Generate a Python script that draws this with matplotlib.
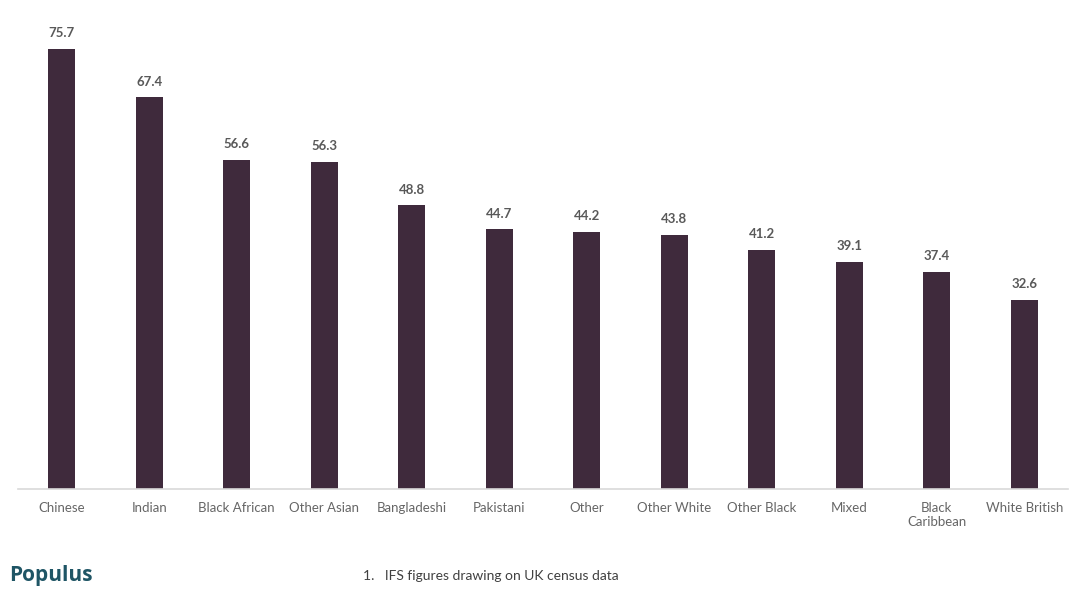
import matplotlib
matplotlib.use("Agg")
import matplotlib.pyplot as plt
import numpy as np

# Chart data
groups = ['Chinese', 'Indian', 'Black African', 'Other Asian', 'Bangladeshi',
          'Pakistani', 'Other', 'Other White', 'Other Black', 'Mixed',
          'Black\nCaribbean', 'White British']
values = [75.7, 67.4, 56.6, 56.3, 48.8, 44.7, 44.2, 43.8, 41.2, 39.1, 37.4, 32.6]

plt.rcParams['font.family'] = ['Lato', 'DejaVu Sans']

fig = plt.figure(figsize=(10.91, 5.98), dpi=100)
ax = fig.add_axes([18 / 1091, 109 / 598, 1050 / 1091, 488 / 598])

x = np.arange(len(groups))
bars = ax.bar(x, values, width=0.31, color='#3f2a3c')

# Value labels above bars
for rect, v in zip(bars, values):
    ax.annotate(f'{v:.1f}', (rect.get_x() + rect.get_width() / 2, v),
                xytext=(0, 7), textcoords='offset points',
                ha='center', va='bottom', fontsize=9.5, fontweight='bold',
                color='#595959')

ax.set_xlim(-0.5, len(groups) - 0.5)
ax.set_ylim(0, 84)
ax.set_xticks(x)
ax.set_xticklabels(groups, fontsize=9.5, color='#666666', linespacing=1.25)
ax.tick_params(axis='x', length=0, pad=9)
ax.set_yticks([])

for side in ['top', 'right', 'left']:
    ax.spines[side].set_visible(False)
ax.spines['bottom'].set_color('#d9d9d9')
ax.spines['bottom'].set_linewidth(1.2)

# Logo and footnote
fig.text(9 / 1091, 1 - 576 / 598, 'Populus', fontsize=15, fontweight='bold',
         family=['Open Sans', 'DejaVu Sans'],
         color='#1f5565', va='center', ha='left')
fig.text(363 / 1091, 1 - 576 / 598, '1.   IFS figures drawing on UK census data',
         fontsize=10, color='#404040', va='center', ha='left')

fig.savefig('out.png', dpi=100)
